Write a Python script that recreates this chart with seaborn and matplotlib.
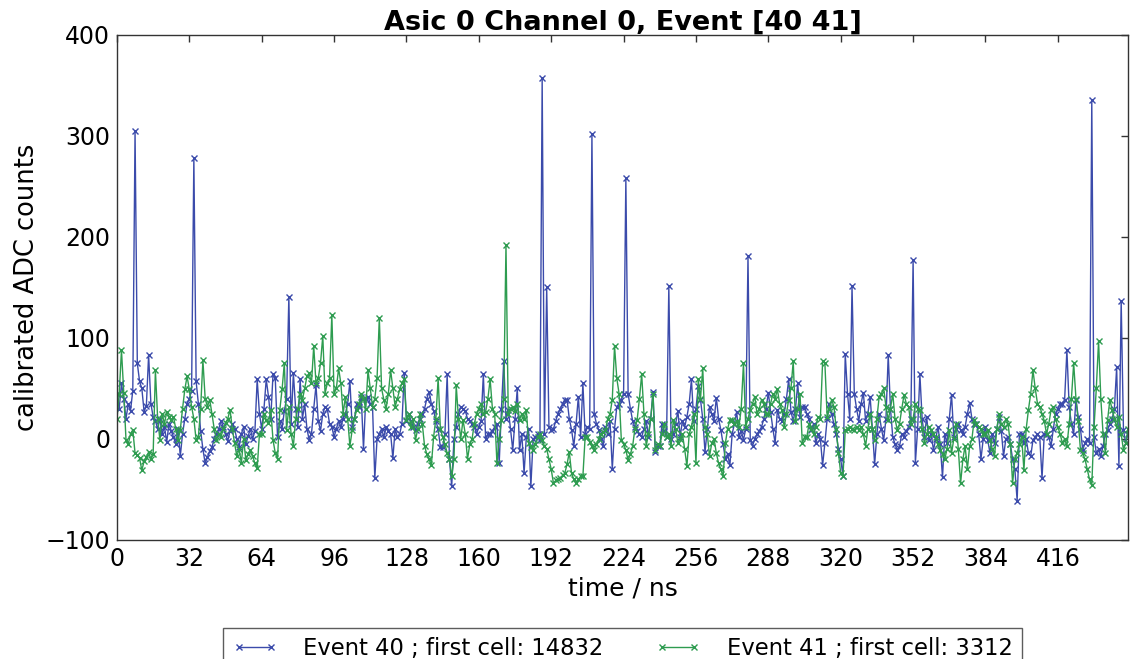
import numpy as np
import matplotlib
matplotlib.use("Agg")
import matplotlib.pyplot as plt
import seaborn as sns

title = "Asic 0 Channel 0, Event [40 41]"
x_label = "time / ns"
y_label = "calibrated ADC counts"
x_ticks = [0, 32, 64, 96, 128, 160, 192, 224, 256, 288, 320, 352, 384, 416]
y_ticks = [-100, 0, 100, 200, 300, 400]
event_labels = ["Event 40 ; first cell: 14832", "Event 41 ; first cell: 3312"]

# calibrated ADC counts, one sample per ns
event40 = [
    45, 30, 55, 40, 20, 35, 28, 48, 305, 75, 57, 50, 27, 33, 83, 35,
    22, 18, 10, 20, 5, 12, -3, 15, 8, 2, -5, 10, -17, 5, 20, 35,
    40, 48, 278, 57, 35, 8, -10, -24, -18, -12, -8, 0, 5, 10, 18, 12,
    5, -2, 8, 15, 10, 0, -8, 5, 12, -5, 3, 10, 0, 8, 59, 25,
    10, 30, 59, 42, 20, 64, 60, 2, 18, 10, 28, 40, 141, 15, 65, 30,
    12, 59, 20, 35, 10, -1, 5, 30, 53, 18, 8, 25, 32, 30, 15, 12,
    2, 10, 18, 12, 20, 25, 35, 57, 12, 20, 35, 32, 42, -10, 40, 42,
    35, 32, -39, 0, 5, 10, 2, 12, 8, 5, -19, 10, 2, 5, 15, 65,
    18, 25, 18, 12, 9, 15, 20, 25, 30, 40, 47, 35, 28, 18, 10, -8,
    -8, 5, 64, -20, -47, 0, 12, 25, 32, 30, 28, 20, 18, 15, 12, 5,
    12, 18, 64, 0, 5, 5, 8, 12, 15, -24, 30, 77, 20, 29, 10, -11,
    20, 50, -11, 5, -34, 2, 10, -47, 0, 2, 5, -1, 357, 5, 150, 12,
    9, 10, 18, 25, 30, 35, 39, 39, 20, 9, -7, 15, 42, 2, 55, 5,
    12, 10, 302, 25, 15, 9, 0, -7, 12, 5, 18, -30, 10, 32, 35, 39,
    45, 258, 45, 30, 18, 12, 8, 5, 2, 10, 18, 2, 20, 47, -13, -7,
    -7, 15, 8, 2, 151, 0, 5, 15, 28, 2, 18, 12, 22, 35, 59, 18,
    30, 52, 39, 20, -13, 10, 32, 25, 18, 41, 20, 9, -5, -20, -15, -26,
    5, 15, 27, 2, 8, -1, 10, 181, -1, -7, 0, 5, 8, 12, 20, 30,
    46, 27, 10, -4, 29, 20, 18, 25, 40, 59, 27, 18, 30, 55, 22, 32,
    32, 25, 20, 9, 15, -4, 5, 0, -26, -4, 20, 35, 25, 15, 5, -10,
    -20, -37, 84, 45, 20, 151, 45, 30, 18, 35, 46, 18, 25, 42, 10, -25,
    5, 25, 10, -1, 20, 83, 30, 2, -5, -11, -7, 5, 2, 8, 12, 20,
    177, -24, 10, 64, 20, 2, 22, -1, 5, -11, 0, 12, -5, -38, 5, -4,
    20, 44, 2, 10, 15, 9, 5, 12, 25, 36, 20, 15, 15, 5, -20, 0,
    12, -1, -14, 5, -4, 10, 22, 8, -17, 0, 2, -5, -20, -30, -61, 5,
    5, -4, 0, -14, -17, -1, 2, 5, 2, -39, 5, 5, 2, -7, 10, 25,
    30, 35, 35, 39, 88, 32, 15, 5, 39, 22, 10, -11, -4, 0, -4, 336,
    2, -14, -10, -17, -7, 5, 9, 15, 20, 30, 71, -27, 137, 9, -4, 5,
]

event41 = [
    20, 45, 88, 46, -1, -5, 5, 9, -14, -16, -19, -31, -22, -18, -13, -20,
    -15, 68, 20, -1, 25, 15, 27, 22, 19, 22, 10, -1, 9, 30, 49, 62,
    49, 32, 20, -1, 2, 30, 78, 40, 32, 39, 25, 10, -1, 5, 2, 10,
    16, 20, 29, 10, -4, -17, -10, -24, 0, -21, -15, -11, -17, -24, -29, 5,
    5, 25, 19, 16, 29, -1, -14, -20, 29, 49, 75, 9, 32, 5, -7, 20,
    30, 45, 39, 50, 62, 65, 55, 92, 55, 60, 75, 102, 45, 55, 60, 123,
    45, 50, 70, 55, 25, 42, 20, -7, 9, 20, 29, 35, 45, 40, 30, 68,
    50, 32, 40, 60, 120, 50, 39, 30, 45, 68, 50, 32, 40, 49, 55, 59,
    19, 25, 12, 20, -1, 10, 25, 15, -7, -15, -20, -26, 2, 20, 60, 10,
    2, -5, -14, -20, -37, -20, 53, 20, 0, 19, 5, -20, -5, 0, 15, 25,
    30, 35, 25, 27, 40, 59, 30, 25, -24, 0, 19, 40, 192, 25, 30, 32,
    28, 35, 19, 25, 20, 29, -4, -8, -11, -5, 2, 5, -1, -7, -10, -20,
    -30, -44, -41, -40, -39, -36, -34, -25, -13, -34, -40, -44, -40, -37, -37, 2,
    2, -3, -7, -11, -5, 0, 5, 7, 9, 20, 25, 39, 92, 60, 45, -1,
    -5, -11, -21, -15, -7, 10, 19, 40, 64, 25, -7, 5, 20, 45, -11, -5,
    -7, 5, 15, 2, 5, -7, 19, 10, -4, 0, 5, -10, -27, 5, 12, 25,
    -24, 59, 40, 70, 12, 5, -17, -4, 0, -14, -24, -30, -37, -4, 10, 19,
    19, 15, 18, 12, 30, 75, 12, 20, 29, 35, 42, 25, 30, 39, 35, 25,
    25, 35, 45, 40, 49, 35, 29, 12, 25, 39, 50, 77, 18, 30, 45, -4,
    2, 2, 15, 10, 5, 12, 22, 20, 77, 75, 22, 30, 39, 32, 10, -14,
    -34, -37, 9, 10, 12, 10, 9, 12, 9, 12, 5, -7, 10, 25, 10, -1,
    20, 42, 45, 50, 32, 19, 30, 45, 20, 9, 15, 30, 44, 35, 32, 15,
    20, 35, 30, 29, 10, -4, 5, 12, 9, 5, 2, -5, -11, -15, -20, -10,
    9, -14, 0, 15, -10, -44, -20, -7, -30, -7, 0, 19, 15, 12, 10, 5,
    5, 9, -1, -10, -17, 10, 25, 15, 12, 20, 15, -5, -44, -20, -14, -5,
    2, -31, 10, 29, 45, 68, 50, 35, 32, 25, 18, 5, 15, 29, 32, 20,
    12, 5, -4, 0, -7, 15, 40, 75, 40, 18, -11, -14, -20, -30, -40, -46,
    12, 50, 97, 40, 5, -14, 19, 39, 29, 20, 12, 22, 5, -11, -4, 10,
]

colors = ["#3b4bab", "#2e9c50"]

sns.set_style("white")
plt.rcParams["font.family"] = ["DejaVu Sans"]
plt.rcParams["text.color"] = "black"
plt.rcParams["axes.labelcolor"] = "black"
plt.rcParams["xtick.color"] = "black"
plt.rcParams["ytick.color"] = "black"

fig = plt.figure(figsize=(11.3, 6.59), dpi=100)
ax = fig.add_axes([0.1035, 0.1806, 0.8947, 0.7663])

for series, lab, col in zip([event40, event41], event_labels, colors):
    t = np.arange(len(series))
    sns.lineplot(x=t, y=series, ax=ax, color=col, linewidth=1.0,
                 marker="x", markersize=5, markeredgewidth=1.0,
                 markeredgecolor=col, label=lab, estimator=None)

ax.set_xlim(0, 447)
ax.set_ylim(-100, 400)
ax.set_xticks(x_ticks)
ax.set_yticks(y_ticks)
ax.tick_params(direction="in", top=True, right=True, length=5, width=1,
               labelsize=17, pad=5, color="#333333", labelcolor="black")
for s in ax.spines.values():
    s.set_color("#333333")
    s.set_linewidth(1.0)

ax.set_title(title, fontsize=19.5, fontweight="bold", pad=4, color="black")
ax.set_xlabel(x_label, fontsize=18)
ax.set_ylabel(y_label, fontsize=18.5)

leg = ax.legend(loc="upper center", bbox_to_anchor=(0.5, -0.174), ncol=2,
                fontsize=16.3, numpoints=2, frameon=True, fancybox=False,
                borderaxespad=0, handlelength=2.0, handletextpad=1.15,
                columnspacing=2.3)
leg.get_frame().set_edgecolor("#333333")
leg.get_frame().set_linewidth(1.0)

fig.savefig("out.png", dpi=100)
